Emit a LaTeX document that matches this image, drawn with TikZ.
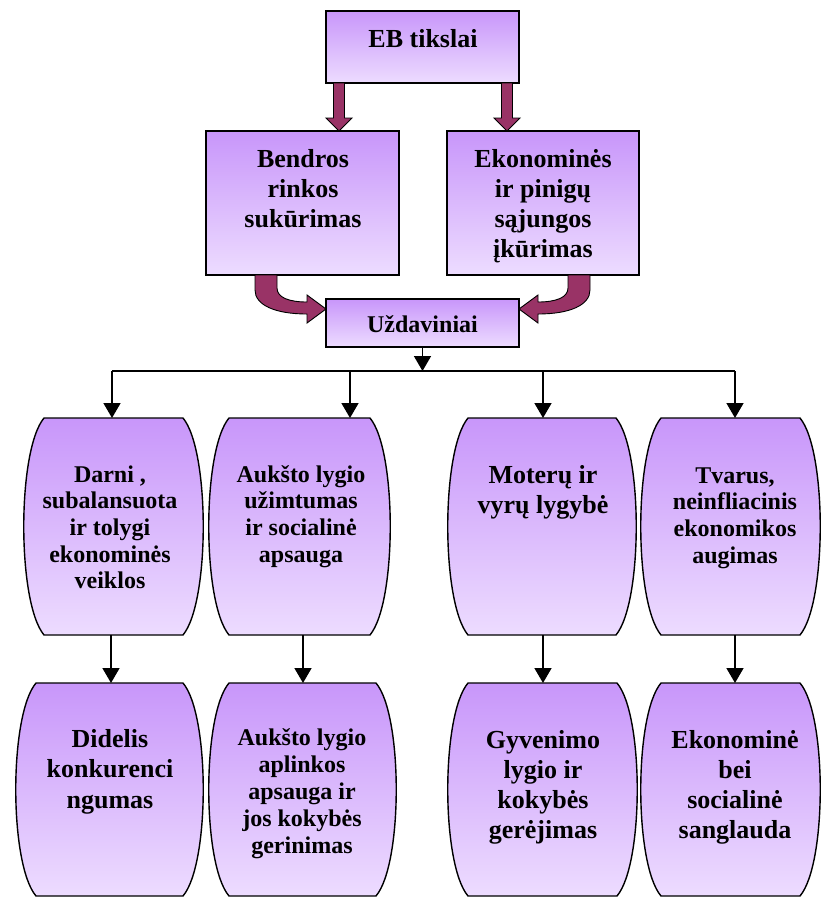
\documentclass[tikz,border=0pt]{standalone}
\usepackage{fontspec}
\setmainfont{Liberation Serif}
\usetikzlibrary{arrows.meta,calc}
\definecolor{boxtop}{RGB}{200,150,250}
\definecolor{boxbot}{RGB}{237,220,255}
\definecolor{maroonc}{RGB}{153,51,102}
\newcommand\ml[1]{\begin{tabular}[t]{@{}c@{}}#1\end{tabular}}
\newcommand\barrel[5]{%
  \draw[barrelsty] ({#1+21},#2) -- ({#3-21},#2)
    .. controls ({#3+6},{#2+0.15*(#4-#2)}) and ({#3+6},{#4-0.15*(#4-#2)}) .. ({#3-21},#4)
    -- ({#1+21},#4)
    .. controls ({#1-6},{#4-0.15*(#4-#2)}) and ({#1-6},{#2+0.15*(#4-#2)}) .. cycle;
  \node[framebox, minimum width={#3-#1}, minimum height={#4-#2}] (#5) at ({(#1+#3)/2},{(#2+#4)/2}) {};}
\newcommand\blockdown[3]{%
  \draw[blockarrow] ({#1-5.5},#2) -- ({#1-5.5},{#3-13}) -- ({#1-13},{#3-13}) -- (#1,#3)
    -- ({#1+13},{#3-13}) -- ({#1+5.5},{#3-13}) -- ({#1+5.5},#2) -- cycle;}
\begin{document}
\begin{tikzpicture}[x=1pt,y=-1pt,
  rbox/.style={draw, line width=1.6pt, top color=boxtop, bottom color=boxbot, inner sep=0pt, outer sep=0pt},
  barrelsty/.style={draw, line width=1.4pt, top color=boxtop, bottom color=boxbot},
  framebox/.style={rectangle, draw=none, inner sep=0pt, outer sep=0pt},
  blockarrow/.style={draw=black, line width=0.9pt, fill=maroonc, line join=miter},
  conn/.style={draw=black, line width=1.6pt},
  arr/.style={conn, -{Triangle[width=17pt,length=15pt]}},
  tbig/.style={anchor=base, inner sep=0pt, font=\fontsize{26}{30}\selectfont\bfseries},
  tmid/.style={anchor=base, inner sep=0pt, font=\fontsize{24}{26.7}\selectfont\bfseries},
  tuzd/.style={anchor=base, inner sep=0pt, font=\fontsize{24}{28}\selectfont\bfseries},
  tmidb/.style={anchor=base, inner sep=0pt, font=\fontsize{24}{27}\selectfont\bfseries},
  tbigb/.style={anchor=base, inner sep=0pt, font=\fontsize{26}{30.5}\selectfont\bfseries}
]
\useasboundingbox[fill=white] (0,0) rectangle (822,898);

% top boxes
\node[rbox, minimum width=193, minimum height=72] (eb) at (422.5,47) {};
\node[rbox, minimum width=193, minimum height=144] (bend) at (302.5,203) {};
\node[rbox, minimum width=192, minimum height=144] (ekon) at (543,203) {};
\node[rbox, minimum width=193, minimum height=48] (uzd) at (422.5,323) {};

\node[tbig] (teb) at (423,47) {\ml{EB tikslai}};
\node[tbig] (tbend) at (303,167) {\ml{Bendros\\rinkos\\sukūrimas}};
\node[tbig] (tekon) at (543,167) {\ml{Ekonominės\\ir pinigų\\sąjungos\\įkūrimas}};
\node[tuzd] (tuzdt) at (422.5,332) {\ml{Uždaviniai}};

% block arrows
\blockdown{339}{83}{131}
\blockdown{507}{83}{131}
\draw[blockarrow] (255,275) -- (255,290) .. controls (255,305) and (275,314) .. (307,314)
  -- (307,323) -- (326,309) -- (307,295) -- (307,302)
  .. controls (290,302) and (277,298) .. (277,288) -- (277,275) -- cycle;
\draw[blockarrow] (590,275) -- (590,290) .. controls (590,305) and (570,314) .. (538,314)
  -- (538,323) -- (519,309) -- (538,295) -- (538,302)
  .. controls (555,302) and (568,298) .. (568,288) -- (568,275) -- cycle;

% barrels row 2
\barrel{23}{418}{204}{635}{r2a}
\barrel{208}{418}{391}{635}{r2b}
\barrel{447}{418}{637}{635}{r2c}
\barrel{640}{418}{821}{635}{r2d}
% barrels row 3
\barrel{15}{683}{204}{896}{r3a}
\barrel{208}{683}{397}{896}{r3b}
\barrel{447}{683}{638}{896}{r3c}
\barrel{640}{683}{821}{896}{r3d}

% texts row 2
\node[tmid] (t2a) at (110,482) {\ml{Darni ,\\subalansuota\\ir tolygi\\ekonominės\\veiklos}};
\node[tmid] (t2b) at (301,482) {\ml{Aukšto lygio\\užimtumas\\ir socialinė\\apsauga}};
\node[tbig] (t2c) at (543,483) {\ml{Moterų ir\\vyrų lygybė}};
\node[tmid] (t2d) at (735,483) {\ml{Tvarus,\\neinfliacinis\\ekonomikos\\augimas}};
% texts row 3
\node[tbigb] (t3a) at (110,747) {\ml{Didelis\\konkurenci\\ngumas}};
\node[tmidb] (t3b) at (302,745) {\ml{Aukšto lygio\\aplinkos\\apsauga ir\\jos kokybės\\gerinimas}};
\node[tbig] (t3c) at (543,748) {\ml{Gyvenimo\\lygio ir\\kokybės\\gerėjimas}};
\node[tbig] (t3d) at (735,748) {\ml{Ekonominė\\bei\\socialinė\\sanglauda}};

% connectors
\coordinate (hl) at (112,371);
\coordinate (h2) at (350,371);
\coordinate (h3) at (543,371);
\coordinate (hr) at (735,371);
\coordinate (colA) at (111,0);
\coordinate (colB) at (303,0);
\coordinate (colC) at (543,0);
\coordinate (colD) at (735,0);
\draw[arr] (uzd.south) -- (uzd.south |- hl);
\draw[conn] (hl) -- (hr);
\draw[arr] (hl) -- (hl |- r2a.north);
\draw[arr] (h2) -- (h2 |- r2b.north);
\draw[arr] (h3) -- (h3 |- r2c.north);
\draw[arr] (hr) -- (hr |- r2d.north);
\draw[arr] (colA |- r2a.south) -- (colA |- r3a.north);
\draw[arr] (colB |- r2b.south) -- (colB |- r3b.north);
\draw[arr] (colC |- r2c.south) -- (colC |- r3c.north);
\draw[arr] (colD |- r2d.south) -- (colD |- r3d.north);
\end{tikzpicture}
\end{document}
